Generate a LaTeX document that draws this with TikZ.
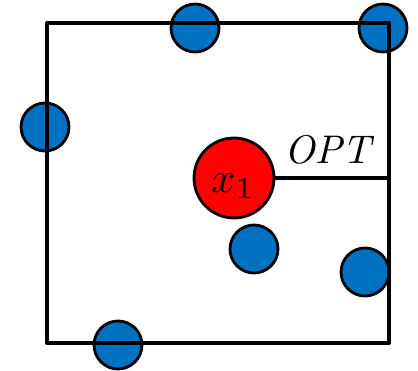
\documentclass[tikz,border=0pt]{standalone}
\usepackage{amsmath}
\definecolor{dotblue}{HTML}{0070C0}
\definecolor{dotred}{HTML}{FF0000}
\tikzset{
  pt/.style={circle, draw=black, line width=2.8pt, fill=dotblue, minimum size=48pt, inner sep=0pt},
  center/.style={circle, draw=black, line width=2.8pt, fill=dotred, minimum size=80pt, inner sep=0pt},
  frame/.style={line width=4.3pt, line cap=round, line join=round},
  bigtext/.style={inner sep=0pt, scale=#1},
}
\begin{document}
\begin{tikzpicture}[x=1pt,y=-1pt]
\useasboundingbox (0,0) rectangle (418,371);
\node[pt] (p1) at (195,28) {};
\node[pt] (p2) at (383,28) {};
\node[pt] (p3) at (45,127) {};
\node[pt] (p4) at (254,249) {};
\node[pt] (p5) at (365,272) {};
\node[pt] (p6) at (118,345) {};
\draw[frame] (47,23) rectangle (389,343);
\coordinate (rb) at (389,178);
\node[center] (x1) at (234,178) {};
\node[bigtext=4.3] (x1lab) at (233,186) {$x_1$};
\draw[line width=4.3pt] (x1.east) -- (rb);
\node[bigtext=4.0] (opt) at (330,150) {$\mathit{OPT}$};
\end{tikzpicture}
\end{document}
